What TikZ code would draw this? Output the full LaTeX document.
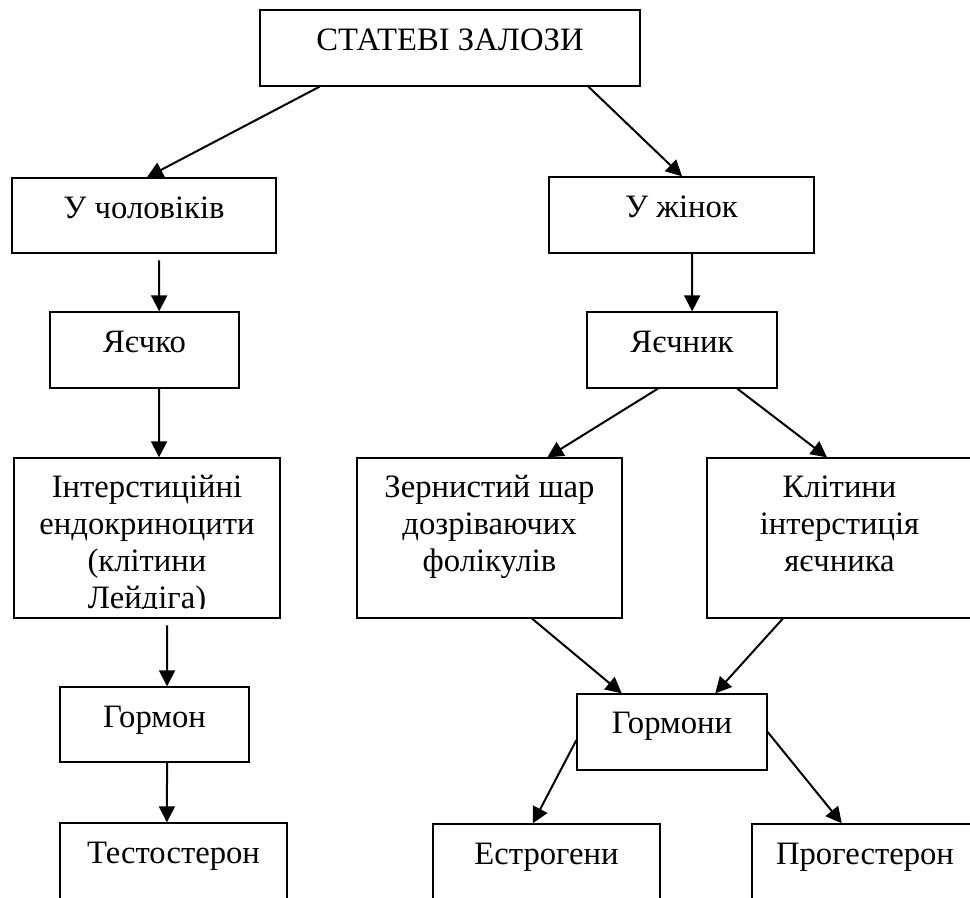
\documentclass[tikz,border=0pt]{standalone}
\usepackage{fontspec}
\setmainfont{Liberation Serif}
\usetikzlibrary{arrows.meta,fit,calc}

\tikzset{
  boxst/.style={draw, line width=1pt, inner sep=0pt},
  txt/.style={inner sep=0pt, anchor=north},
  conn/.style={line width=1.5pt, -{Triangle[length=12pt,width=12pt]}}
}
% top-aligned, centred text block; #2 sets the first baseline below the box top
\newcommand\boxtext[3]{\parbox[t]{#1}{\centering\fontsize{24.5pt}{27.75pt}\selectfont\rule{0pt}{#2}#3}}
% points along the lower / upper edge of a box
\newcommand\bottomat[2]{($(#1.south west)!#2!(#1.south east)$)}
\newcommand\topat[2]{($(#1.north west)!#2!(#1.north east)$)}

\begin{document}
\begin{tikzpicture}[x=0.75pt,y=-0.75pt]
\useasboundingbox (0,0) rectangle (970,898);
\clip (0,0) rectangle (970,898);

% boxes
\node[boxst, fit={(260,10) (640,86)}] (top) {};
\node[boxst, fit={(12,178) (276,253)}] (men) {};
\node[boxst, fit={(549,177) (814,253)}] (women) {};
\node[boxst, fit={(50,312) (239,388)}] (testis) {};
\node[boxst, fit={(587,312) (777,388)}] (ovary) {};
\node[boxst, fit={(14,458) (280,618)}] (leydig) {};
\node[boxst, fit={(357,458) (622,618)}] (gran) {};
\node[boxst, fit={(707,458) (972,618)}] (inters) {};
\node[boxst, fit={(60,687) (249,762)}] (horm) {};
\node[boxst, fit={(577,694) (767,770)}] (horms) {};
\node[boxst, fit={(60,823) (287,920)}] (testo) {};
\node[boxst, fit={(433,824) (660,920)}] (estro) {};
\node[boxst, fit={(752,824) (978,920)}] (proge) {};

% labels
\node[txt] (top-t) at (top.north) {\boxtext{300pt}{31pt}{СТАТЕВІ ЗАЛОЗИ}};
\node[txt] (men-t) at (men.north) {\boxtext{200pt}{30.5pt}{У чоловіків}};
\node[txt] (women-t) at (women.north) {\boxtext{200pt}{30.5pt}{У жінок}};
\node[txt] (testis-t) at (testis.north) {\boxtext{200pt}{30.5pt}{Яєчко}};
\node[txt] (ovary-t) at (ovary.north) {\boxtext{200pt}{30.5pt}{Яєчник}};
\begin{scope}
  \clip (14,458) rectangle (280,608);
  \node[txt] (leydig-t) at (leydig.north) {\boxtext{200pt}{30pt}{Інтерстиційні\\ендокриноцити\\(клітини\\Лейдіга)}};
\end{scope}
\node[txt] (gran-t) at (gran.north) {\boxtext{200pt}{30pt}{Зернистий шар\\дозріваючих\\фолікулів}};
\node[txt] (inters-t) at (inters.north) {\boxtext{200pt}{30pt}{Клітини\\інтерстиція\\яєчника}};
\node[txt] (horm-t) at (horm.north) {\boxtext{200pt}{30.5pt}{Гормон}};
\node[txt] (horms-t) at (horms.north) {\boxtext{200pt}{30pt}{Гормони}};
\node[txt] (testo-t) at (testo.north) {\boxtext{200pt}{30.5pt}{Тестостерон}};
\node[txt] (estro-t) at (estro.north) {\boxtext{200pt}{30.5pt}{Естрогени}};
\node[txt] (proge-t) at (proge.north) {\boxtext{200pt}{30.5pt}{Прогестерон}};

% connectors
\draw[conn] \bottomat{top}{0.158} -- \topat{men}{0.511};
\draw[conn] \bottomat{top}{0.863} -- \topat{women}{0.502};
\draw[conn, shorten <=5pt] \bottomat{men}{0.557} -- \topat{testis}{0.577};
\draw[conn] \bottomat{women}{0.54} -- \topat{ovary}{0.553};
\draw[conn] \bottomat{testis}{0.577} -- \topat{leydig}{0.545};
\draw[conn, shorten <=5pt] \bottomat{leydig}{0.575} -- \topat{horm}{0.566};
\draw[conn] \bottomat{horm}{0.566} -- \topat{testo}{0.471};
\draw[conn] \bottomat{ovary}{0.374} -- \topat{gran}{0.717};
\draw[conn] \bottomat{ovary}{0.789} -- \topat{inters}{0.453};
\draw[conn] \bottomat{gran}{0.66} -- \topat{horms}{0.237};
\draw[conn] \bottomat{inters}{0.287} -- \topat{horms}{0.726};
\draw[conn] ($(horms.north west)!0.605!(horms.south west)$) -- \topat{estro}{0.44};
\draw[conn] ($(horms.north east)!0.5!(horms.south east)$) -- \topat{proge}{0.398};
\end{tikzpicture}
\end{document}
